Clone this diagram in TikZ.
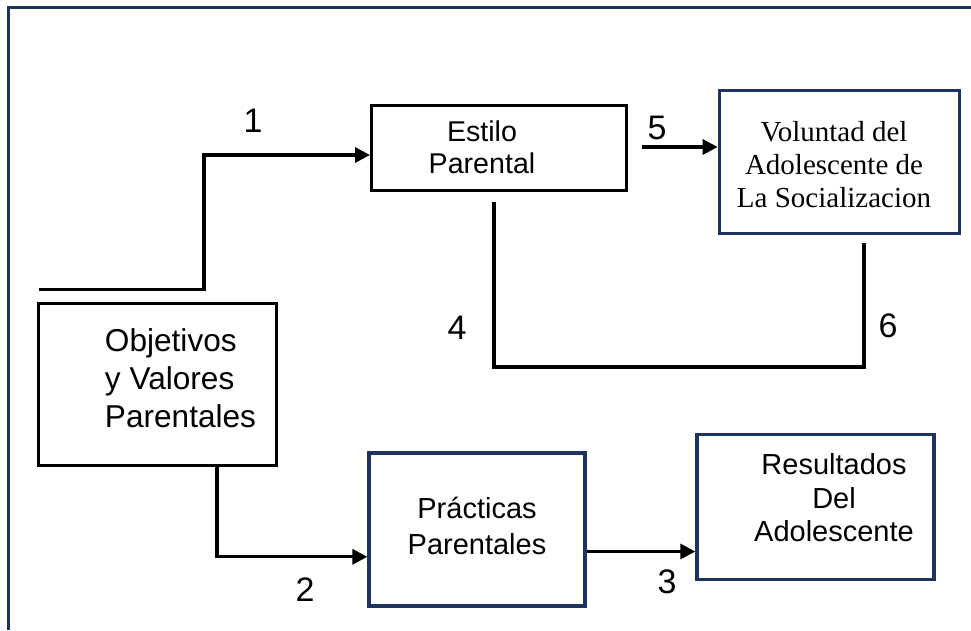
\documentclass[tikz,border=0pt]{standalone}
\usepackage{fontspec}
\setmainfont{Liberation Sans}
\newfontfamily\timesfont{Liberation Serif}
\usetikzlibrary{arrows.meta}
\definecolor{boxblue}{RGB}{31,52,92}

\begin{document}
\begin{tikzpicture}[x=1pt,y=-1pt,
  blackbox/.style={draw=black,line width=3pt,inner sep=0pt},
  bluebox/.style={draw=boxblue,line width=3.3pt,inner sep=0pt},
  txt/.style={inner sep=0pt,font=\fontsize{29}{34}\selectfont},
  num/.style={inner sep=0pt,font=\fontsize{34}{40}\selectfont},
  conn/.style={line width=3.2pt},
  arr/.style={conn,-{Triangle[length=15pt,width=15pt]}}]
\useasboundingbox (0,0) rectangle (971,630);
\draw[boxblue,line width=3.5pt] (8.7,630) -- (8.7,7.7) -- (971,7.7);

% boxes
\node[blackbox,minimum width=238pt,minimum height=162pt] (obj) at (157.5,384) {};
\node[txt,align=left,font=\fontsize{31.6}{38}\selectfont] (objtxt) at (180.5,378) {Objetivos\\y Valores\\Parentales};
\node[blackbox,minimum width=255pt,minimum height=85pt] (estilo) at (499,147.5) {};
\node[txt,align=center,font=\fontsize{28.6}{32}\selectfont] (estilotxt) at (482,147.5) {Estilo\\Parental};
\node[bluebox,minimum width=240pt,minimum height=143pt] (vol) at (839.3,161.7) {};
\node[txt,align=center,font=\timesfont\fontsize{29}{33}\selectfont] (voltxt) at (834,165) {Voluntad del\\Adolescente de\\La Socializacion};
\node[bluebox,minimum width=216pt,minimum height=153pt] (prac) at (477,529.5) {};
\node[txt,align=center,font=\fontsize{29}{36}\selectfont] (practxt) at (477,526) {Prácticas\\Parentales};
\node[bluebox,minimum width=237pt,minimum height=145pt] (res) at (815.5,506.7) {};
\node[txt,align=center,font=\fontsize{29}{33.5}\selectfont] (restxt) at (834,498) {Resultados\\Del\\Adolescente};

% connectors
\coordinate (s1) at (39.3,289.3);
\draw[arr] (s1) -- ++(164.7,0) |- ([yshift=-7.5pt]estilo.west);
\draw[arr] ([xshift=59.5pt]obj.south) |- ([yshift=-27.3pt]prac.west);
\draw[arr] ([yshift=-22pt]prac.east) -- ([yshift=-22pt]prac.east -| res.west);
\coordinate (s5) at (642,147);
\draw[arr] (s5) -- (s5 -| vol.west);
\coordinate (c4) at (494,367);
\draw[conn] ([xshift=-5pt,yshift=-10pt]estilo.south) -- (c4) -| ([xshift=24.7pt,yshift=-7.7pt]vol.south);

% numbers
\node[num] (n1) at (253,121) {1};
\node[num] (n2) at (305,590) {2};
\node[num] (n3) at (667,582) {3};
\node[num] (n4) at (457,328) {4};
\node[num] (n5) at (657,128) {5};
\node[num] (n6) at (888,326) {6};
\end{tikzpicture}
\end{document}
